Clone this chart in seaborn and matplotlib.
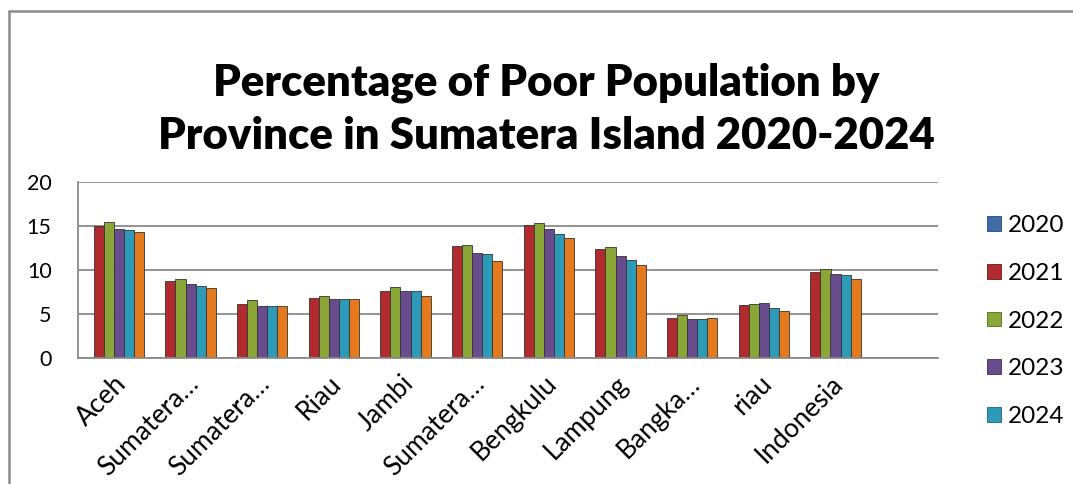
import numpy as np
import pandas as pd
import matplotlib
matplotlib.use("Agg")
import matplotlib.pyplot as plt
from matplotlib.patches import Patch
from matplotlib.lines import Line2D
import seaborn as sns

# ---------------- data ----------------
categories = ["Aceh", "Sumatera Utara", "Sumatera Barat", "Riau", "Jambi",
              "Sumatera Selatan", "Bengkulu", "Lampung",
              "Kepulauan Bangka Belitung", "Kepulauan riau", "Indonesia"]
tick_labels = ["Aceh", "Sumatera…", "Sumatera…", "Riau", "Jambi",
               "Sumatera…", "Bengkulu", "Lampung", "Bangka…", "riau", "Indonesia"]

series_names = ["2020", "2021", "2022", "2023", "2024", "Series 6"]
legend_labels = ["2020", "2021", "2022", "2023", "2024"]

s2020 = [np.nan] * 11  # empty series (no bars drawn)
s2021 = [15.0, 8.7, 6.2, 6.8, 7.6, 12.7, 15.1, 12.4, 4.6, 6.0, 9.8]
s2022 = [15.4, 9.0, 6.6, 7.1, 8.1, 12.8, 15.3, 12.6, 4.9, 6.1, 10.1]
s2023 = [14.6, 8.4, 5.9, 6.7, 7.6, 11.9, 14.6, 11.6, 4.5, 6.3, 9.6]
s2024 = [14.5, 8.2, 5.9, 6.7, 7.6, 11.8, 14.1, 11.1, 4.5, 5.7, 9.4]
s6 = [14.3, 8.0, 5.9, 6.7, 7.1, 11.0, 13.6, 10.6, 4.6, 5.4, 9.0]
all_series = [s2020, s2021, s2022, s2023, s2024, s6]

colors = ["#3E6BAA", "#B02A2E", "#8AA636", "#684C8E", "#2D9BB8", "#E5791D"]
edge_colors = ["#274A7A", "#6E1417", "#566A1E", "#3F2C5A", "#1A6479", "#9A4E0F"]

title_lines = ["Percentage of Poor Population by",
               "Province in Sumatera Island 2020-2024"]

# ---------------- frame ----------------
rows = []
for name, vals in zip(series_names, all_series):
    for cat, v in zip(categories, vals):
        rows.append({"category": cat, "series": name, "value": v})
df = pd.DataFrame(rows)

sns.set_style("white")
plt.rcParams["font.family"] = ["Lato", "DejaVu Sans"]
plt.rcParams["text.color"] = "black"
plt.rcParams["xtick.color"] = "black"
plt.rcParams["ytick.color"] = "black"

W, H = 1073, 484
fig = plt.figure(figsize=(W / 100, H / 100), dpi=100)
ax = fig.add_axes([78 / W, 1 - 358.3 / H, (938 - 78) / W, (358.3 - 181.7) / H])

palette = dict(zip(series_names, colors))
sns.barplot(data=df, x="category", y="value", hue="series",
            order=categories, hue_order=series_names, palette=palette,
            width=0.84, dodge=True, saturation=1, legend=False,
            errorbar=None, ax=ax)

edge_map = dict(zip(colors, edge_colors))
for p in ax.patches:
    fc = matplotlib.colors.to_hex(p.get_facecolor())
    p.set_edgecolor(edge_map.get(fc, "#333333"))
    p.set_linewidth(0.6)

ax.set_xlim(-0.5, 11.5)
ax.set_ylim(0, 20)
ax.set_yticks([0, 5, 10, 15, 20])
ax.yaxis.grid(True, color="#8A8A8A", linewidth=1.3)
ax.set_axisbelow(True)
ax.set_xlabel("")
ax.set_ylabel("")
for side in ["top", "right"]:
    ax.spines[side].set_visible(False)
for side in ["left", "bottom"]:
    ax.spines[side].set_visible(True)
    ax.spines[side].set_color("#8A8A8A")
    ax.spines[side].set_linewidth(1.3)

ax.tick_params(axis="y", length=0, pad=19, labelsize=15.5, labelcolor="black")
ax.tick_params(axis="x", length=0, pad=9, labelsize=19, labelcolor="black")
ax.set_xticks(range(len(categories)))
ax.set_xticklabels(tick_labels, rotation=45, ha="right", va="top",
                   rotation_mode="anchor")

fig.text(546 / W, 1 - 83 / H, title_lines[0], ha="center",
         va="center", fontsize=31.5, fontweight="heavy", color="black")
fig.text(546 / W, 1 - 136 / H, title_lines[1], ha="center",
         va="center", fontsize=31.5, fontweight="heavy", color="black")

handles = [Patch(facecolor=c, edgecolor=e, linewidth=0.6)
           for c, e in zip(colors[:5], edge_colors[:5])]
fig.legend(handles, legend_labels, loc="upper left",
           bbox_to_anchor=(975 / W, 1 - 203 / H), frameon=False,
           fontsize=17.5, handlelength=0.55, handleheight=0.55,
           handletextpad=0.3, labelspacing=1.1, borderpad=0)

# outer chart-area border (top and left edges visible)
fig.add_artist(Line2D([8.5 / W, 8.5 / W], [0, 1 - 11 / H],
                      transform=fig.transFigure, color="#8C8C8C", linewidth=1.8))
fig.add_artist(Line2D([8.5 / W, 1], [1 - 11 / H, 1 - 11 / H],
                      transform=fig.transFigure, color="#8C8C8C", linewidth=1.8))

fig.savefig("out.png", dpi=100)
